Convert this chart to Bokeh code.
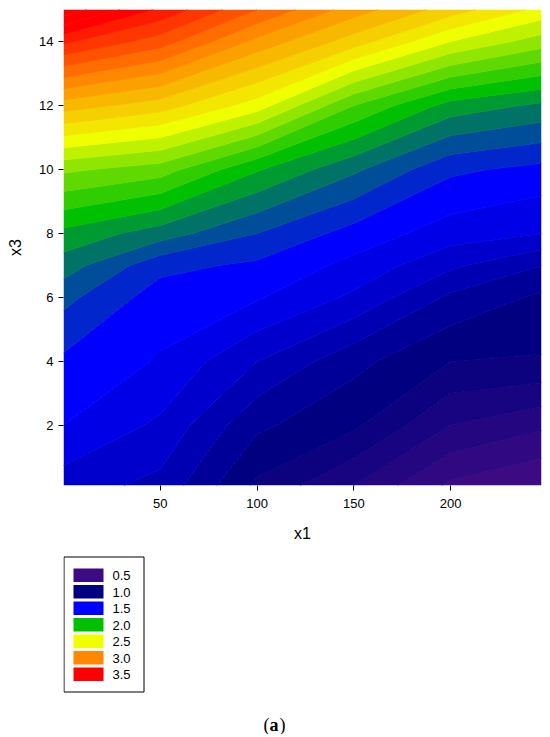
import numpy as np
from bokeh.plotting import figure
from bokeh.models import Range1d, FixedTicker, Label
from bokeh.core.properties import value
from bokeh.layouts import column
from bokeh.embed import file_html
from bokeh.resources import INLINE

# ---------------- data ----------------
x1_vals = [0, 50, 100, 150, 200, 247]
x3_vals = [0.12, 2, 4, 6, 7, 8, 10, 12, 14, 15]
# response values along x3 (bottom -> top) for each x1 column
z_x1_0 = [1.35, 1.50, 1.58, 1.73, 1.85, 1.97, 2.32, 2.85, 3.42, 3.77]
z_x1_50 = [1.27, 1.38, 1.49, 1.55, 1.63, 1.85, 2.25, 2.75, 3.25, 3.48]
z_x1_100 = [0.98, 1.12, 1.30, 1.51, 1.58, 1.70, 2.01, 2.55, 2.97, 3.20]
z_x1_150 = [0.80, 1.02, 1.13, 1.38, 1.47, 1.56, 1.82, 2.20, 2.75, 2.95]
z_x1_200 = [0.58, 0.80, 1.00, 1.18, 1.32, 1.45, 1.62, 1.96, 2.50, 2.75]
z_x1_247 = [0.50, 0.72, 0.99, 1.08, 1.20, 1.40, 1.57, 1.88, 2.35, 2.57]

legend_values = [0.5, 1.0, 1.5, 2.0, 2.5, 3.0, 3.5]
legend_labels = ["0.5", "1.0", "1.5", "2.0", "2.5", "3.0", "3.5"]
legend_colors = ["#3c0a82", "#000080", "#0000ff", "#00c000", "#f0ff00", "#ff8800", "#ff0000"]

x_ticks = [50, 100, 150, 200]
y_ticks = [2, 4, 6, 8, 10, 12, 14]

# ---------------- build ----------------
Z = np.array([z_x1_0, z_x1_50, z_x1_100, z_x1_150, z_x1_200, z_x1_247]).T

levels = [round(0.4 + 0.1 * i, 2) for i in range(36)]


def hex_to_rgb(h):
    h = h.lstrip("#")
    return [int(h[i:i + 2], 16) for i in (0, 2, 4)]


anchor_rgb = np.array([hex_to_rgb(c) for c in legend_colors], dtype=float)


def band_color(v):
    r = np.interp(v, legend_values, anchor_rgb[:, 0])
    g = np.interp(v, legend_values, anchor_rgb[:, 1])
    b = np.interp(v, legend_values, anchor_rgb[:, 2])
    return "#%02x%02x%02x" % (int(round(r)), int(round(g)), int(round(b)))


band_colors = [band_color(L) for L in levels[:-1]]
seam_colors = [band_color(L) for L in levels]

FONT = "Liberation Sans"
LEFT, RIGHT, W = 63, 7, 548

p = figure(width=W, height=548, x_range=Range1d(0, 247), y_range=Range1d(0.12, 15),
           output_backend="svg", toolbar_location=None,
           min_border_left=LEFT, min_border_right=RIGHT, min_border_top=9, min_border_bottom=63)
p.contour(x=x1_vals, y=x3_vals, z=Z, levels=levels, fill_color=band_colors,
          line_color=seam_colors, line_width=1)

p.grid.visible = False
p.outline_line_color = None
p.background_fill_color = "white"

for ax in (p.xaxis, p.yaxis):
    ax.axis_line_color = None
    ax.major_tick_out = 5
    ax.major_tick_in = 0
    ax.minor_tick_line_color = None
    ax.major_tick_line_color = "black"
    ax.major_label_text_font = FONT
    ax.major_label_text_font_size = "13px"
    ax.major_label_text_color = "black"
    ax.axis_label_text_font = FONT
    ax.axis_label_text_font_size = "16px"
    ax.axis_label_text_font_style = "normal"
    ax.axis_label_text_color = "black"

p.xaxis.ticker = FixedTicker(ticks=x_ticks)
p.yaxis.ticker = FixedTicker(ticks=y_ticks)
p.xaxis.axis_label = "x1"
p.yaxis.axis_label = "x3"
p.xaxis.major_label_standoff = 8
p.xaxis.axis_label_standoff = 14
p.yaxis.major_label_standoff = 5
p.yaxis.axis_label_standoff = 12

# ---------------- legend + caption panel (data units = page pixels) ----------------
H2 = 186
p2 = figure(width=W, height=H2, x_range=Range1d(LEFT, W - RIGHT), y_range=Range1d(H2, 0),
            output_backend="svg", toolbar_location=None, min_border=0,
            min_border_left=LEFT, min_border_right=RIGHT,
            x_axis_location=None, y_axis_location=None)
p2.grid.visible = False
p2.outline_line_color = None

n = len(legend_labels)
box_left, box_right, box_top = 63.5, 143.5, 8.5
sw_left, sw_w, sw_h, pitch, first_top = 73, 30, 13.5, 16.5, 20
box_bottom = first_top + (n - 1) * pitch + sw_h + 11

p2.quad(left=[box_left], right=[box_right], top=[box_top], bottom=[box_bottom],
        fill_color="white", line_color="black", line_width=1)
tops = [first_top + i * pitch for i in range(n)]
p2.quad(left=[sw_left] * n, right=[sw_left + sw_w] * n, top=tops,
        bottom=[t + sw_h for t in tops], fill_color=legend_colors, line_color=None)
p2.text(x=[112] * n, y=[t + sw_h / 2 + 0.5 for t in tops], text=legend_labels,
        text_font=value(FONT), text_font_size="13px", text_baseline="middle",
        text_align="left", text_color="black")

cap_font = "Liberation Serif"
cap_y = 176
p2.add_layout(Label(x=263, y=cap_y, text="(", text_font=cap_font, text_font_size="18px",
                    text_baseline="alphabetic", text_color="black"))
p2.add_layout(Label(x=269, y=cap_y, text="a", text_font=cap_font, text_font_size="18px",
                    text_font_style="bold", text_baseline="alphabetic", text_color="black"))
p2.add_layout(Label(x=279, y=cap_y, text=")", text_font=cap_font, text_font_size="18px",
                    text_baseline="alphabetic", text_color="black"))

layout = column(p, p2, spacing=0)
open("out.html", "w").write(file_html(layout, INLINE))
